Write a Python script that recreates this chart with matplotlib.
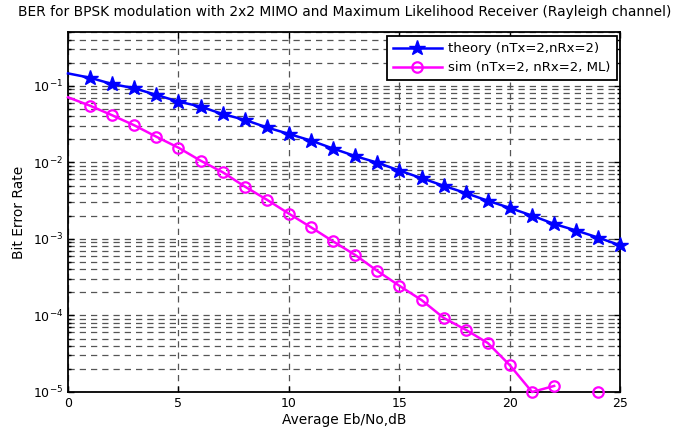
import numpy as np
import matplotlib
matplotlib.use("Agg")
import matplotlib.pyplot as plt

plt.rcParams['font.family'] = ['DejaVu Sans']

# Eb/No in dB
ebno_db = np.arange(0, 26)

# values
theory_ber = [0.146, 0.128, 0.106, 0.0933, 0.0764, 0.0625, 0.0538, 0.0429,
              0.0361, 0.0287, 0.0236, 0.0193, 0.0152, 0.0121, 0.00994,
              0.00783, 0.00624, 0.00496, 0.00398, 0.00316, 0.00254,
              0.00202, 0.00157, 0.00129, 0.00104, 0.000824]
sim_ber = [0.0711, 0.0552, 0.0414, 0.0306, 0.0217, 0.0156, 0.01055,
           0.00746, 0.00485, 0.00326, 0.00214, 0.00142, 0.000929,
           0.000617, 0.000382, 0.000244, 0.000159, 9.3e-5, 6.5e-5,
           4.36e-5, 2.23e-5, 1.0e-5, 1.2e-5, np.nan, 1.0e-5, np.nan]

fig = plt.figure(figsize=(6.75, 4.32), dpi=100)
ax = fig.add_axes([0.1007, 0.0926, 0.8185, 0.8322])

ax.semilogy(ebno_db, theory_ber, color='#0000ff', lw=1.8, marker='*',
            ms=11.5, markevery=range(1, 26), clip_on=False, zorder=3,
            label='theory (nTx=2,nRx=2)')
ax.semilogy(ebno_db, sim_ber, color='#ff00ff', lw=1.8, marker='o',
            ms=7.5, mfc='none', mew=1.6, markevery=range(1, 26),
            clip_on=False, zorder=3, label='sim (nTx=2, nRx=2, ML)')

ax.set_xlim(0, 25)
ax.set_ylim(1e-5, 0.5)
ax.set_xticks([0, 5, 10, 15, 20, 25])

ax.grid(True, which='major', axis='both', color='#555555', ls=(0, (5, 4)), lw=0.9)
ax.grid(True, which='minor', axis='y', color='#555555', ls=(0, (5, 4)), lw=0.9)

ax.tick_params(which='both', direction='in', top=True, right=True, labelsize=9)
ax.tick_params(which='major', length=4, width=1)
ax.tick_params(which='minor', length=2.5, width=1)
for s in ax.spines.values():
    s.set_linewidth(1.3)

ax.set_title('BER for BPSK modulation with 2x2 MIMO and Maximum Likelihood Receiver (Rayleigh channel)',
             fontsize=9.9, pad=12)
ax.set_xlabel('Average Eb/No,dB', fontsize=9.9, labelpad=2)
ax.set_ylabel('Bit Error Rate', fontsize=9.9, labelpad=5)

leg = ax.legend(loc='upper right', fontsize=9.5, fancybox=False, framealpha=1,
                edgecolor='black', borderpad=0.45, handlelength=3.7,
                borderaxespad=0.3, labelspacing=0.45, handletextpad=0.5)
leg.get_frame().set_linewidth(1.3)

fig.savefig('out.png', dpi=100)
